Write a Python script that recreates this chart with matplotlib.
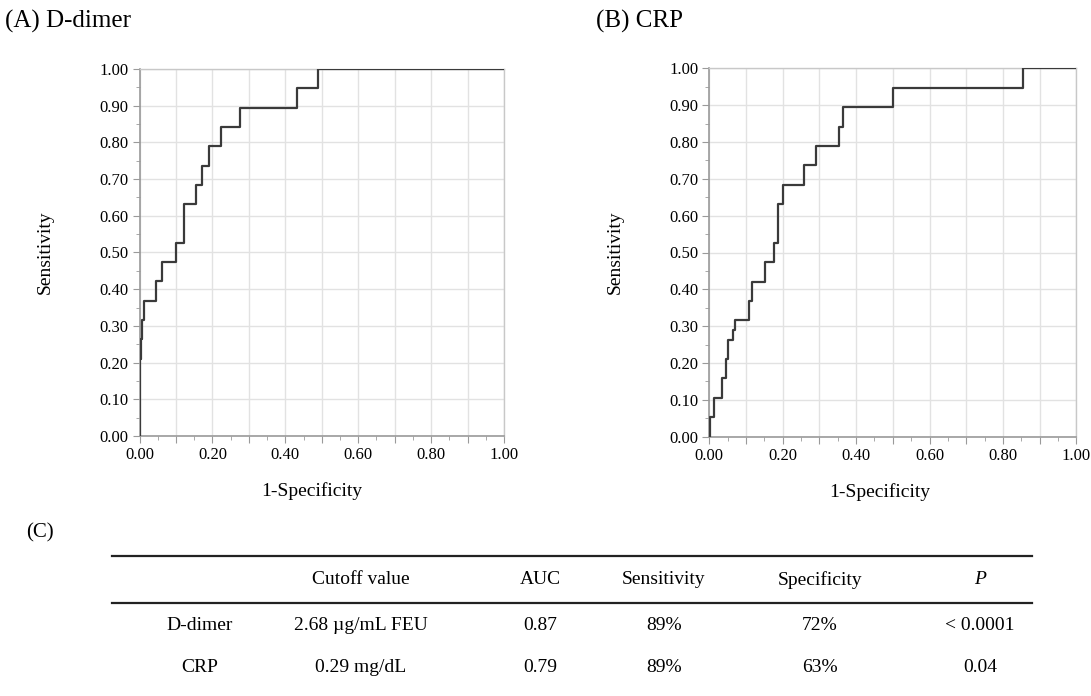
import numpy as np
import matplotlib.pyplot as plt
from matplotlib.ticker import MultipleLocator

plt.rcParams['font.family'] = ['Liberation Serif', 'DejaVu Serif']

# ROC stair points: (fpr where the vertical step happens, tpr after the step)
ddimer_fpr = [0, 0.002, 0.004, 0.007, 0.013, 0.046, 0.061, 0.100, 0.122, 0.154, 0.172, 0.191, 0.224, 0.277, 0.431, 0.490, 1.0]
ddimer_tpr = [0, 0.211, 0.263, 0.316, 0.368, 0.421, 0.474, 0.526, 0.632, 0.684, 0.737, 0.789, 0.842, 0.895, 0.947, 1.0, 1.0]

crp_fpr = [0, 0.002, 0.013, 0.035, 0.046, 0.052, 0.065, 0.069, 0.108, 0.117, 0.152, 0.176, 0.188, 0.200, 0.258, 0.290, 0.354, 0.365, 0.500, 0.855, 1.0]
crp_tpr = [0, 0.053, 0.105, 0.158, 0.211, 0.263, 0.289, 0.316, 0.368, 0.421, 0.474, 0.526, 0.632, 0.684, 0.737, 0.789, 0.842, 0.895, 0.947, 1.0, 1.0]

col_labels = ['', 'Cutoff value', 'AUC', 'Sensitivity', 'Specificity', 'P']
row_ddimer = ['D-dimer', '2.68 \u00b5g/mL FEU', '0.87', '89%', '72%', '< 0.0001']
row_crp = ['CRP', '0.29 mg/dL', '0.79', '89%', '63%', '0.04']

fig = plt.figure(figsize=(10.91, 6.96), dpi=100)

def roc_panel(rect, fpr, tpr, title, title_x, xlab_x):
    ax = fig.add_axes(rect)
    ax.plot(fpr, tpr, drawstyle='steps-post', color='#3a3a3a', lw=1.6, zorder=3)
    ax.set_xlim(0, 1)
    ax.set_ylim(0, 1)
    ax.xaxis.set_major_locator(MultipleLocator(0.1))
    ax.xaxis.set_minor_locator(MultipleLocator(0.05))
    ax.yaxis.set_major_locator(MultipleLocator(0.1))
    ax.yaxis.set_minor_locator(MultipleLocator(0.05))
    ax.set_xticklabels(['%.2f' % v if round(v * 10) % 2 == 0 else '' for v in ax.get_xticks()])
    ax.set_yticklabels(['%.2f' % v for v in ax.get_yticks()])
    ax.grid(True, which='major', color='#e2e2e2', lw=1)
    ax.set_axisbelow(True)
    for s in ['left', 'bottom']:
        ax.spines[s].set_color('#9a9a9a')
        ax.spines[s].set_linewidth(1.2)
    for s in ['top', 'right']:
        ax.spines[s].set_color('#c8c8c8')
        ax.spines[s].set_linewidth(1.0)
    ax.tick_params(which='major', length=5, color='#9a9a9a', labelsize=12, pad=3)
    ax.tick_params(which='minor', length=3, color='#9a9a9a')
    ax.set_xlabel('1-Specificity', fontsize=14)
    ax.set_ylabel('Sensitivity', fontsize=14)
    ax.xaxis.set_label_coords(xlab_x, -0.125)
    ax.yaxis.set_label_coords(-0.234, 0.5)
    fig.text(title_x, 1 - 21 / 696, title, fontsize=18, va='center', ha='left')
    return ax

roc_panel([139.5 / 1091, 1 - 436 / 696, 364.5 / 1091, 367 / 696], ddimer_fpr, ddimer_tpr, '(A) D-dimer', 5 / 1091, 0.473)
roc_panel([709.3 / 1091, 1 - 436.7 / 696, 367 / 1091, 368.4 / 696], crp_fpr, crp_tpr, '(B) CRP', 596 / 1091, 0.465)

# table (C)
fig.text(40 / 1091, 1 - 533 / 696, '(C)', fontsize=15, va='center', ha='center')
col_x = [200, 361, 540, 664, 820, 980]
rule = fig.add_axes([0, 0, 1, 1], facecolor='none')
rule.set_xlim(0, 1091)
rule.set_ylim(696, 0)
rule.axis('off')
rule.plot([112, 1032], [556, 556], color='#222222', lw=1.6)
rule.plot([112, 1032], [603, 603], color='#222222', lw=1.6)
for x, t in zip(col_x, col_labels):
    rule.text(x, 580, t, fontsize=14, ha='center', va='center', style='italic' if t == 'P' else 'normal')
for x, t in zip(col_x, row_ddimer):
    rule.text(x, 626, t, fontsize=14, ha='center', va='center')
for x, t in zip(col_x, row_crp):
    rule.text(x, 668, t, fontsize=14, ha='center', va='center')

fig.savefig('out.png', dpi=100)
